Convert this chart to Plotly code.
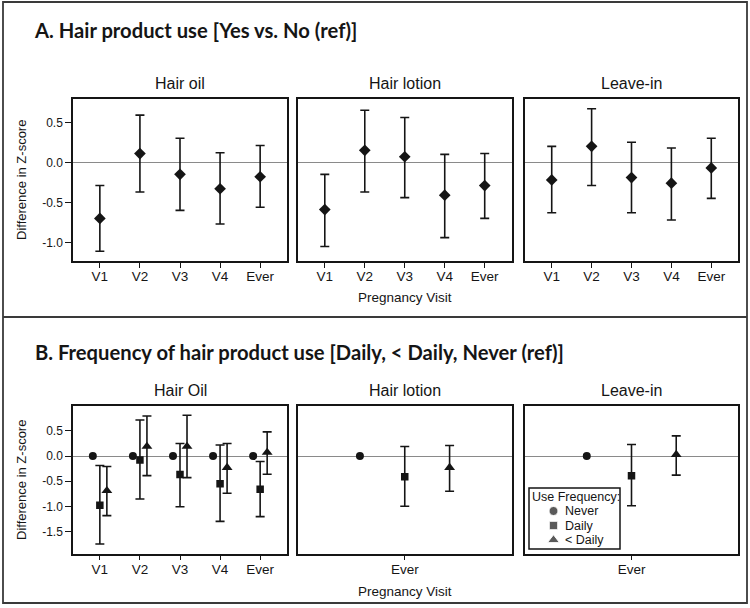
import plotly.graph_objects as go

# ---------------- data ----------------
visits = ["V1", "V2", "V3", "V4", "Ever"]
products_a = ["Hair oil", "Hair lotion", "Leave-in"]
products_b = ["Hair Oil", "Hair lotion", "Leave-in"]
freq_levels = ["Never", "Daily", "< Daily"]

# Panel A: estimate with lower / upper 95% CI
a_oil_est = [-0.70, 0.11, -0.15, -0.33, -0.18]
a_oil_lo = [-1.11, -0.37, -0.60, -0.77, -0.56]
a_oil_hi = [-0.29, 0.59, 0.30, 0.12, 0.21]
a_lotion_est = [-0.59, 0.15, 0.07, -0.41, -0.29]
a_lotion_lo = [-1.05, -0.37, -0.44, -0.94, -0.70]
a_lotion_hi = [-0.15, 0.65, 0.56, 0.10, 0.11]
a_leave_est = [-0.22, 0.20, -0.19, -0.26, -0.07]
a_leave_lo = [-0.63, -0.29, -0.63, -0.72, -0.45]
a_leave_hi = [0.20, 0.67, 0.25, 0.18, 0.30]

# Panel B: Hair Oil by visit
b_oil_visits = ["V1", "V2", "V3", "V4", "Ever"]
b_oil_never = [0.0, 0.0, 0.0, 0.0, 0.0]
b_oil_daily_est = [-0.98, -0.08, -0.37, -0.55, -0.66]
b_oil_daily_lo = [-1.75, -0.855, -1.01, -1.30, -1.205]
b_oil_daily_hi = [-0.19, 0.715, 0.25, 0.22, -0.11]
b_oil_lt_est = [-0.69, 0.19, 0.19, -0.23, 0.07]
b_oil_lt_lo = [-1.185, -0.39, -0.43, -0.74, -0.364]
b_oil_lt_hi = [-0.21, 0.795, 0.81, 0.25, 0.48]

# Panel B: Hair lotion / Leave-in (Ever only)
b_ever_visits = ["Ever"]
b_lotion_never = [0.0]
b_lotion_daily_est = [-0.41]
b_lotion_daily_lo = [-1.00]
b_lotion_daily_hi = [0.19]
b_lotion_lt_est = [-0.23]
b_lotion_lt_lo = [-0.70]
b_lotion_lt_hi = [0.21]
b_leave_never = [0.0]
b_leave_daily_est = [-0.39]
b_leave_daily_lo = [-0.99]
b_leave_daily_hi = [0.23]
b_leave_lt_est = [0.03]
b_leave_lt_lo = [-0.38]
b_leave_lt_hi = [0.40]

a_yticks = [-1.0, -0.5, 0.0, 0.5]
b_yticks = [-1.5, -1.0, -0.5, 0.0, 0.5]

# ---------------- layout helpers ----------------
W, H = 750, 608
INK = "#151515"
FONT = "Liberation Sans, Arial, sans-serif"
TITLE_FONT = "Lato, Liberation Sans, sans-serif"


def px(x):
    return x / W


def py(y):
    return 1 - y / H


col_px = [(73, 287), (298, 511.5), (525, 738)]
rowA_px = (99, 261)
rowB_px = (405.7, 553.7)


def err(est, lo, hi):
    return dict(type="data", symmetric=False,
                array=[h - e for e, h in zip(est, hi)],
                arrayminus=[e - l for e, l in zip(est, lo)],
                color=INK, thickness=1.6, width=4.5)


fig = go.Figure()

# ---------------- Panel A ----------------
a_sets = [(a_oil_est, a_oil_lo, a_oil_hi),
          (a_lotion_est, a_lotion_lo, a_lotion_hi),
          (a_leave_est, a_leave_lo, a_leave_hi)]
for i, (est, lo, hi) in enumerate(a_sets):
    ax = "" if i == 0 else str(i + 1)
    fig.add_trace(go.Scatter(
        x=list(range(len(visits))), y=est, mode="markers",
        marker=dict(symbol="diamond", size=9, color=INK),
        error_y=err(est, lo, hi), showlegend=False,
        xaxis="x" + ax, yaxis="y" + ax, name=products_a[i]))

# ---------------- Panel B ----------------
symbols = {"Never": "circle", "Daily": "square", "< Daily": "triangle-up"}
sizes = {"Never": 8, "Daily": 7.5, "< Daily": 9.5}
leg_sizes = {"Never": 9, "Daily": 8.5, "< Daily": 10.5}
multi_off = {"Never": -0.175, "Daily": 0.0, "< Daily": 0.175}
single_off = {"Never": -0.42, "Daily": 0.0, "< Daily": 0.42}

b_panels = [
    (b_oil_visits, b_oil_never,
     (b_oil_daily_est, b_oil_daily_lo, b_oil_daily_hi),
     (b_oil_lt_est, b_oil_lt_lo, b_oil_lt_hi), multi_off),
    (b_ever_visits, b_lotion_never,
     (b_lotion_daily_est, b_lotion_daily_lo, b_lotion_daily_hi),
     (b_lotion_lt_est, b_lotion_lt_lo, b_lotion_lt_hi), single_off),
    (b_ever_visits, b_leave_never,
     (b_leave_daily_est, b_leave_daily_lo, b_leave_daily_hi),
     (b_leave_lt_est, b_leave_lt_lo, b_leave_lt_hi), single_off),
]
for j, (cats, never, daily, lt, off) in enumerate(b_panels):
    ax = str(j + 4)
    idx = list(range(len(cats)))
    fig.add_trace(go.Scatter(
        x=[k + off["Never"] for k in idx], y=never, mode="markers",
        marker=dict(symbol=symbols["Never"], size=sizes["Never"], color=INK),
        name="Never", showlegend=False,
        xaxis="x" + ax, yaxis="y" + ax))
    fig.add_trace(go.Scatter(
        x=[k + off["Daily"] for k in idx], y=daily[0], mode="markers",
        marker=dict(symbol=symbols["Daily"], size=sizes["Daily"], color=INK),
        error_y=err(*daily), name="Daily", showlegend=False,
        xaxis="x" + ax, yaxis="y" + ax))
    fig.add_trace(go.Scatter(
        x=[k + off["< Daily"] for k in idx], y=lt[0], mode="markers",
        marker=dict(symbol=symbols["< Daily"], size=sizes["< Daily"], color=INK),
        error_y=err(*lt), name="< Daily", showlegend=False,
        xaxis="x" + ax, yaxis="y" + ax))

# ---------------- legend key (compact, drawn on its own hidden axis) ----------------
leg_box = (529, 488, 620, 549)          # x0, y0, x1, y1 in page pixels
leg_row_y = [511, 525.5, 540]
leg_key_x = 553.5
fig.add_trace(go.Scatter(
    x=[leg_key_x] * len(freq_levels), y=leg_row_y, mode="markers",
    marker=dict(symbol=[symbols[f] for f in freq_levels],
                size=[leg_sizes[f] for f in freq_levels], color=INK),
    showlegend=False, hoverinfo="skip", xaxis="x7", yaxis="y7"))

# ---------------- axes ----------------
axis_common = dict(showline=True, mirror=True, linecolor=INK, linewidth=1.5,
                   showgrid=False, ticks="outside", ticklen=5, tickwidth=1.2,
                   tickcolor=INK, tickfont=dict(size=13.5, color=INK, family=FONT))
layout_axes = {}
for r, (rpx, yrange, yt) in enumerate([(rowA_px, [-1.232, 0.791], a_yticks),
                                        (rowB_px, [-1.942, 1.0], b_yticks)]):
    for c in range(3):
        n = r * 3 + c + 1
        key = "" if n == 1 else str(n)
        if r == 1 and c > 0:
            xr = [-1.0, 1.0]
            tv, tt = [0], b_ever_visits
        else:
            xr = [-0.67, 4.67]
            tv, tt = list(range(len(visits))), visits
        layout_axes["xaxis" + key] = dict(
            axis_common, domain=[px(col_px[c][0]), px(col_px[c][1])],
            range=xr, tickvals=tv, ticktext=tt, zeroline=False,
            ticklabelstandoff=-3,
            anchor="y" + key, fixedrange=True)
        yax = dict(axis_common, domain=[py(rpx[1]), py(rpx[0])], range=yrange,
                   zeroline=True, zerolinecolor="#8a8a8a", zerolinewidth=1.2,
                   anchor="x" + key, fixedrange=True,
                   tickfont=dict(size=12, color=INK, family=FONT))
        if c == 0:
            yax.update(tickvals=yt, ticktext=[f"{v:.1f}" for v in yt], ticklen=6)
        else:
            yax.update(showticklabels=False, ticks="")
        layout_axes["yaxis" + key] = yax

layout_axes["xaxis7"] = dict(domain=[px(leg_box[0]), px(leg_box[2])],
                             range=[leg_box[0], leg_box[2]], visible=False,
                             anchor="y7", fixedrange=True)
layout_axes["yaxis7"] = dict(domain=[py(leg_box[3]), py(leg_box[1])],
                             range=[leg_box[3], leg_box[1]], visible=False,
                             anchor="x7", fixedrange=True)

# ---------------- annotations ----------------
ann = []


def text(x, y, s, size, family=FONT, weight=400, angle=0, xanchor="center"):
    ann.append(dict(x=px(x), y=py(y), xref="paper", yref="paper", text=s,
                    showarrow=False, xanchor=xanchor, yanchor="middle",
                    textangle=angle,
                    font=dict(size=size, family=family, color=INK, weight=weight)))


text(32, 30, "A. Hair product use [Yes vs. No (ref)]", 20.2, TITLE_FONT, 700,
     xanchor="left")
text(33, 352, "B. Frequency of hair product use [Daily, < Daily, Never (ref)]",
     20.2, TITLE_FONT, 700, xanchor="left")
for c in range(3):
    cx = (col_px[c][0] + col_px[c][1]) / 2
    text(cx, 83, products_a[c], 16)
    text(cx, 390, products_b[c], 16)
text(21, 180, "Difference in Z-score", 13, angle=-90)
text(21, 480, "Difference in Z-score", 13, angle=-90)
text(405, 297, "Pregnancy Visit", 13.5)
text(405, 591, "Pregnancy Visit", 13.5)

# legend texts
text(529.5, 497, "Use Frequency:", 12.5, xanchor="left")
for f, yy in zip(freq_levels, leg_row_y):
    text(563, yy, f, 12.5, xanchor="left")

shapes = [
    dict(type="rect", xref="paper", yref="paper", x0=px(3), x1=px(747),
         y0=py(603), y1=py(2), line=dict(color="#3a3a3a", width=1.8)),
    dict(type="line", xref="paper", yref="paper", x0=px(3), x1=px(747),
         y0=py(317), y1=py(317), line=dict(color="#3a3a3a", width=1.8)),
    dict(type="rect", xref="paper", yref="paper", layer="below",
         x0=px(leg_box[0]), x1=px(leg_box[2]), y0=py(leg_box[3]), y1=py(leg_box[1]),
         fillcolor="white", line=dict(color=INK, width=1.5)),
]

fig.update_layout(
    width=W, height=H, margin=dict(l=0, r=0, t=0, b=0),
    paper_bgcolor="white", plot_bgcolor="rgba(0,0,0,0)",
    font=dict(family=FONT, color=INK),
    annotations=ann, shapes=shapes, showlegend=False,
    **layout_axes,
)

fig.write_html(
    "out.html",
    config={"displayModeBar": False},
    post_script="document.body.style.margin='0';document.body.style.padding='0';"
                "document.body.style.overflow='hidden';",
)
